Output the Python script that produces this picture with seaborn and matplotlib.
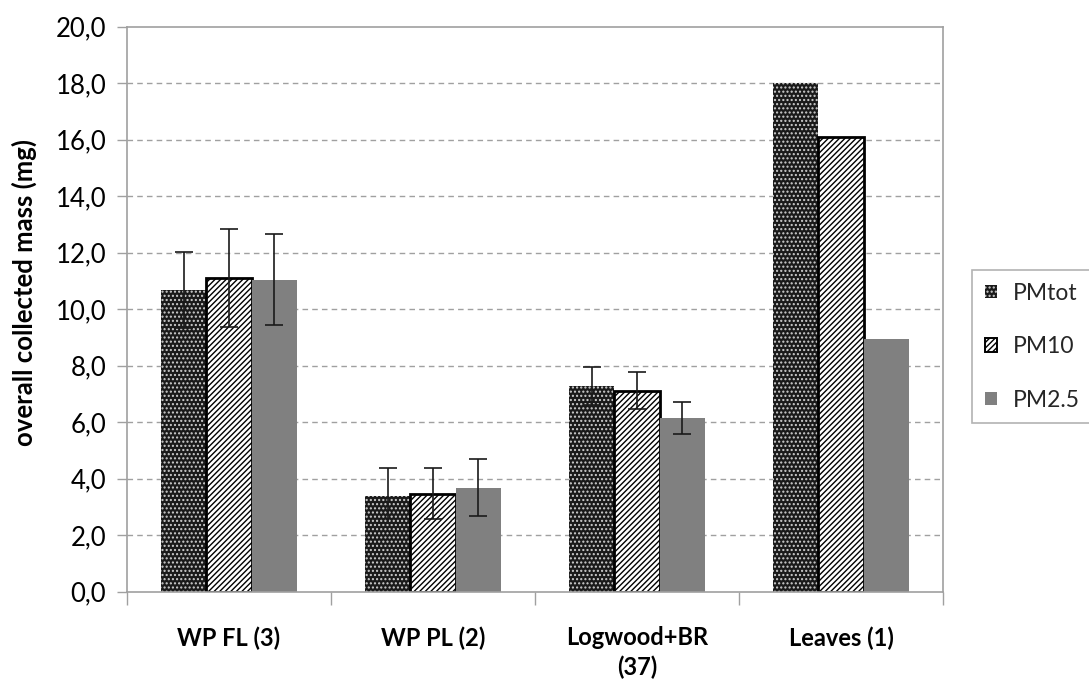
import numpy as np
import pandas as pd
import matplotlib
matplotlib.use("Agg")
import matplotlib.pyplot as plt
from matplotlib.patches import Patch
from matplotlib.ticker import FuncFormatter, FixedLocator
import seaborn as sns

# ---- data -------------------------------------------------------------
categories = ["WP FL (3)", "WP PL (2)", "Logwood+BR\n(37)", "Leaves (1)"]
series = ["PMtot", "PM10", "PM2.5"]

pm_tot = [10.68, 3.40, 7.28, 18.0]
pm_10 = [11.10, 3.47, 7.12, 16.1]
pm_25 = [11.05, 3.68, 6.14, 8.95]

err_tot = [1.34, 0.97, 0.67, np.nan]
err_10 = [1.74, 0.90, 0.67, np.nan]
err_25 = [1.60, 1.00, 0.57, np.nan]

y_ticks = np.arange(0, 20.1, 2.0)

# ---- styling ------------------------------------------------------------
sns.set_theme(style="white")
plt.rcParams["font.family"] = ["Lato", "DejaVu Sans"]
plt.rcParams["hatch.linewidth"] = 1.0

values = [pm_tot, pm_10, pm_25]
errors = [err_tot, err_10, err_25]

df = pd.DataFrame({
    "category": np.repeat([categories], 3, axis=0).ravel(),
    "series": np.repeat(series, len(categories)),
    "mass": np.concatenate(values),
})

fig = plt.figure(figsize=(10.89, 6.80), dpi=100)
ax = fig.add_axes([0.1166, 0.1299, 0.866 - 0.1166, 0.9607 - 0.1299])

sns.barplot(data=df, x="category", y="mass", hue="series",
            order=categories, hue_order=series, width=0.667,
            errorbar=None, ax=ax, legend=False)

styles = [
    dict(facecolor="#1a1a1a", edgecolor="#cfcfcf", hatch="....", linewidth=0),
    dict(facecolor="white", edgecolor="black", hatch="//////", linewidth=2.0),
    dict(facecolor="#808080", edgecolor="#808080", hatch=None, linewidth=0),
]

for cont, st, errs in zip(ax.containers, styles, errors):
    xs, ys = [], []
    for bar in cont:
        bar.set_facecolor(st["facecolor"])
        bar.set_edgecolor(st["edgecolor"])
        bar.set_linewidth(st["linewidth"])
        if st["hatch"]:
            bar.set_hatch(st["hatch"])
        xs.append(bar.get_x() + bar.get_width() / 2)
        ys.append(bar.get_height())
    ax.errorbar(xs, ys, yerr=errs, fmt="none", ecolor="#1a1a1a",
                elinewidth=1.2, capsize=6.5, capthick=1.2, zorder=5)

# ---- axes ---------------------------------------------------------------
ax.set_ylim(0, 20)
ax.set_xlim(-0.5, len(categories) - 0.5)
ax.set_yticks(y_ticks)
ax.yaxis.set_major_formatter(FuncFormatter(lambda v, _: f"{v:.1f}".replace(".", ",")))
for yv in y_ticks[1:-1]:
    ax.axhline(yv, color="#a0a0a0", linestyle=(0, (4, 3)), linewidth=1.0, zorder=0)

ax.set_xticks(range(len(categories)))
ax.set_xticklabels(categories, fontsize=17, fontweight="bold", color="black",
                   linespacing=1.3)
ax.xaxis.set_minor_locator(FixedLocator(np.arange(-0.5, len(categories), 1.0)))
ax.tick_params(axis="x", which="major", length=0, pad=25)
ax.tick_params(axis="x", which="minor", length=9, width=1.0, color="#a0a0a0",
               direction="out", bottom=True)
ax.tick_params(axis="y", length=7, width=1.0, color="#a0a0a0", direction="out",
               left=True, labelsize=18.5, labelcolor="black", pad=8)

for sp in ax.spines.values():
    sp.set_visible(True)
    sp.set_color("#a0a0a0")
    sp.set_linewidth(1.2)

ax.set_xlabel("")
ax.set_ylabel("overall collected mass (mg)", fontsize=18.5, fontweight="bold",
              color="black")
ax.yaxis.set_label_coords(-0.110, 0.53)

# ---- legend ---------------------------------------------------------------
handles = [Patch(facecolor=st["facecolor"], edgecolor=st["edgecolor"],
                 hatch=st["hatch"], linewidth=st["linewidth"] * 0.7,
                 label=name) for st, name in zip(styles, series)]
leg = fig.legend(handles=handles, loc="upper left",
                 bbox_to_anchor=(0.8926, 0.603), frameon=True, fancybox=False,
                 fontsize=16.5, handlelength=0.55, handleheight=0.55,
                 handletextpad=0.7, labelspacing=1.42, borderpad=0.55,
                 borderaxespad=0)
leg.get_frame().set_edgecolor("#a0a0a0")
leg.get_frame().set_linewidth(1.2)

fig.savefig("out.png", dpi=100, facecolor="white")
